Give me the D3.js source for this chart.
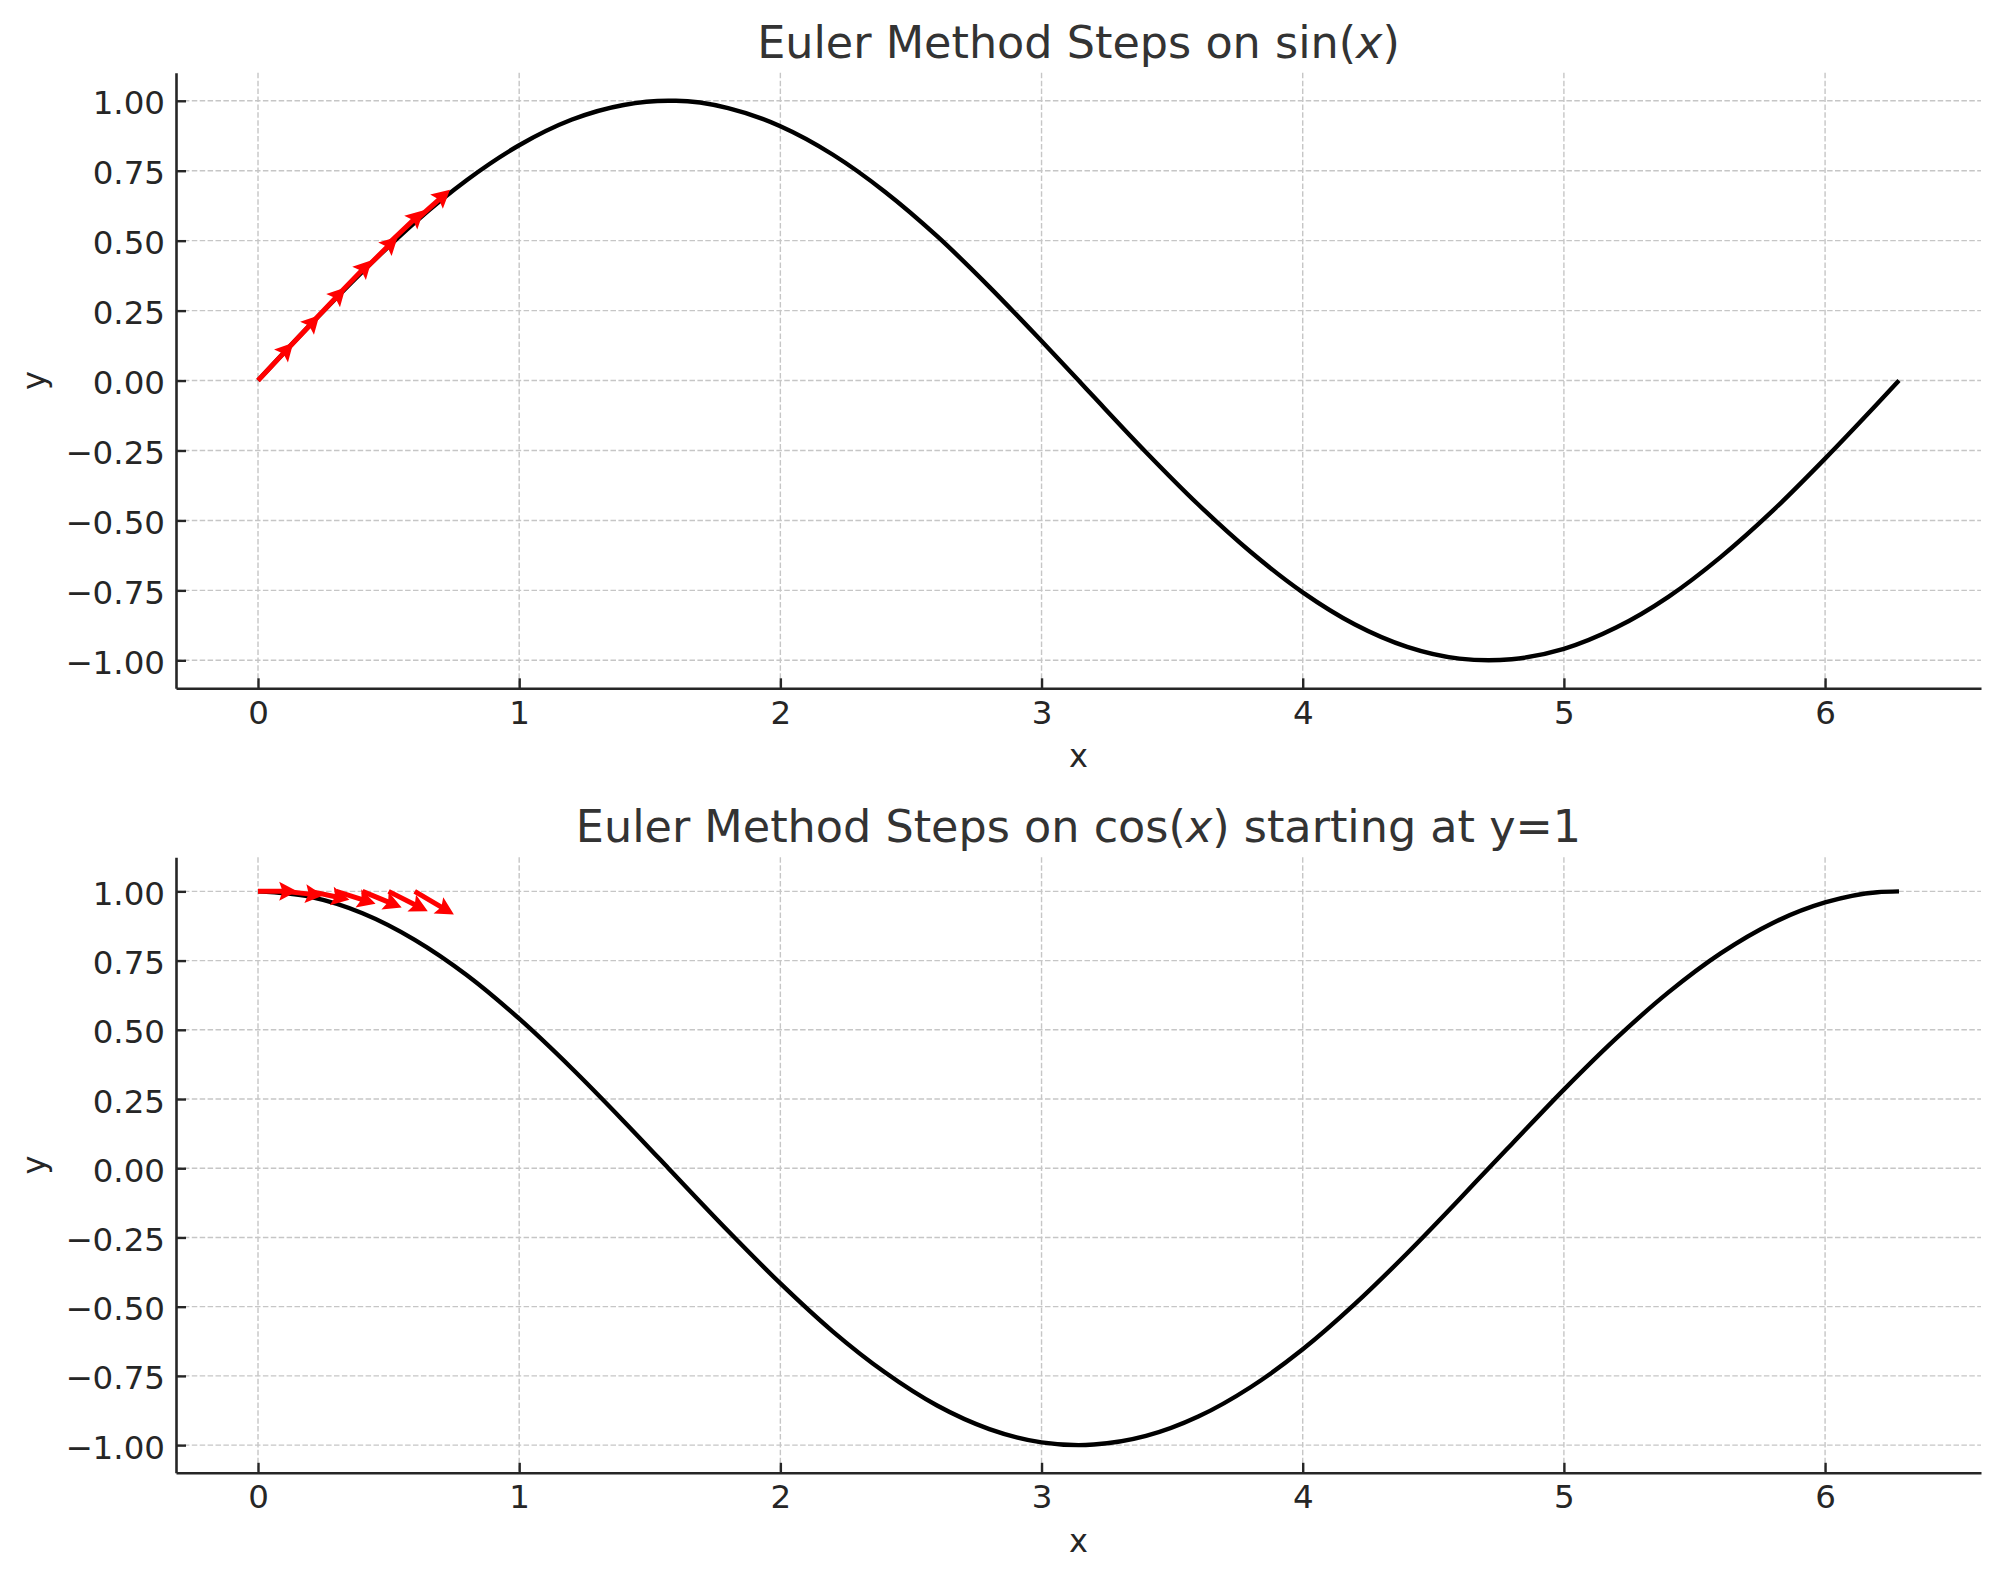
<!DOCTYPE html>
<html>
<head>
<meta charset="utf-8">
<script src="https://cdnjs.cloudflare.com/ajax/libs/d3/7.8.5/d3.min.js"></script>
<style>
  body { margin: 0; background: #ffffff; }
  text { font-family: "DejaVu Sans", sans-serif; }
  .GridLine { stroke: #c6c6c6; stroke-width: 1.4; stroke-dasharray: 5.5, 2.4; }
  .ChartTitle { font-size: 44.5px; fill: #333333; }
  .AxisLabel { font-size: 32px; fill: #262626; }
</style>
</head>
<body>
<div id="ChartContainer"></div>
<script>
var curveX = [0, 0.2, 0.4, 0.6, 0.8, 1.0, 1.2, 1.4, 1.571, 1.6, 1.8, 2.0, 2.2, 2.4, 2.6, 2.8,
  3.0, 3.142, 3.2, 3.4, 3.6, 3.8, 4.0, 4.2, 4.4, 4.6, 4.712, 4.8, 5.0, 5.2, 5.4, 5.6, 5.8,
  6.0, 6.2, 6.283]
var sinY = [0, 0.199, 0.389, 0.565, 0.717, 0.841, 0.932, 0.985, 1.0, 1.0, 0.974, 0.909, 0.808,
  0.675, 0.516, 0.335, 0.141, 0, -0.058, -0.256, -0.443, -0.612, -0.757, -0.872, -0.952,
  -0.994, -1.0, -0.996, -0.959, -0.883, -0.773, -0.631, -0.465, -0.279, -0.083, 0]
var cosY = [1.0, 0.980, 0.921, 0.825, 0.697, 0.540, 0.362, 0.170, 0, -0.029, -0.227, -0.416,
  -0.589, -0.737, -0.857, -0.942, -0.990, -1.0, -0.998, -0.967, -0.897, -0.791, -0.654,
  -0.490, -0.307, -0.112, 0, 0.087, 0.284, 0.469, 0.635, 0.776, 0.886, 0.960, 0.997, 1.0]

// Euler steps (arrow tails and slopes)
var stepX = [0, 0.1, 0.2, 0.3, 0.4, 0.5, 0.6]
var sinStepY = [0, 0.10, 0.20, 0.30, 0.39, 0.49, 0.57]
var sinStepSlope = [1.00, 0.99, 0.98, 0.96, 0.92, 0.88, 0.83]
var cosStepY = [1, 1, 1, 1, 1, 1, 1]
var cosStepSlope = [0, -0.10, -0.20, -0.30, -0.39, -0.48, -0.56]

var xTicks = [0, 1, 2, 3, 4, 5, 6]
var yTicks = [-1, -0.75, -0.5, -0.25, 0, 0.25, 0.5, 0.75, 1]

var fullWidth = 2001
var fullHeight = 1580
var margin = {
  left: 176,
  right: 20,
}
var width = fullWidth - margin.left - margin.right
var panelHeight = 615.5
var inkColor = "#262626"

// arrow shape, pixels
var shaftHalf = 2.5
var headHalf = 9.5
var headLength = 18
var headNotch = 15.5

var svg = d3.select("#ChartContainer").append("svg")
  .attr("width", fullWidth)
  .attr("height", fullHeight)

svg.append("rect")
  .attr("width", fullWidth)
  .attr("height", fullHeight)
  .attr("fill", "#ffffff")

var minusFormat = v => d3.format(".2f")(v).replace("-", "\u2212")

function drawPanel(opts) {
  var x = d3.scaleLinear()
    .domain([-0.314, 6.597])
    .range([0, width])
  var y = d3.scaleLinear()
    .domain(opts.yDomain)
    .range([panelHeight, 0])

  var g = svg.append("g")
    .attr("transform", `translate(${margin.left},${opts.top})`)

  // grid
  g.selectAll(".GridX")
    .data(xTicks)
    .enter().append("line")
    .attr("class", "GridLine")
    .attr("x1", d => x(d)).attr("x2", d => x(d))
    .attr("y1", 0).attr("y2", panelHeight)
  g.selectAll(".GridY")
    .data(yTicks)
    .enter().append("line")
    .attr("class", "GridLine")
    .attr("x1", 0).attr("x2", width)
    .attr("y1", d => y(d)).attr("y2", d => y(d))

  // function curve
  var line = d3.line()
    .x(i => x(curveX[i]))
    .y(i => y(opts.curveY[i]))
    .curve(d3.curveMonotoneX)
  g.append("path")
    .datum(d3.range(curveX.length))
    .attr("d", line)
    .attr("fill", "none")
    .attr("stroke", "#000000")
    .attr("stroke-width", 4.4)

  // Euler step arrows, quiver style
  stepX.forEach((sx, i) => {
    var x0 = x(sx)
    var y0 = y(opts.stepY[i])
    var x1 = x(sx + opts.arrowScale)
    var y1 = y(opts.stepY[i] + opts.stepSlope[i] * opts.arrowScale)
    var len = Math.hypot(x1 - x0, y1 - y0)
    var angle = Math.atan2(y1 - y0, x1 - x0) * 180 / Math.PI
    var pts = [[0, -shaftHalf], [len - headNotch, -shaftHalf], [len - headLength, -headHalf],
      [len, 0], [len - headLength, headHalf], [len - headNotch, shaftHalf], [0, shaftHalf]]
    g.append("polygon")
      .attr("transform", `translate(${x0},${y0}) rotate(${angle})`)
      .attr("points", pts.map(p => p.join(",")).join(" "))
      .attr("fill", "#ff0000")
  })

  // axes with inward ticks
  var xAxis = g.append("g")
    .attr("transform", `translate(0,${panelHeight})`)
    .call(d3.axisBottom(x)
      .tickValues(xTicks)
      .tickFormat(d3.format("d"))
      .tickSizeInner(-10)
      .tickSizeOuter(0)
      .tickPadding(12.5))
  var yAxis = g.append("g")
    .call(d3.axisLeft(y)
      .tickValues(yTicks)
      .tickFormat(minusFormat)
      .tickSizeInner(-10)
      .tickSizeOuter(0)
      .tickPadding(11))

  ;[xAxis, yAxis].forEach(ax => {
    ax.attr("font-family", null).attr("font-size", null)
    ax.select(".domain").attr("stroke", inkColor).attr("stroke-width", 2.6)
    ax.selectAll(".tick line").attr("stroke", inkColor).attr("stroke-width", 2.4)
    ax.selectAll(".tick text").attr("fill", inkColor).style("font-size", "32.5px")
  })
  yAxis.selectAll(".tick text").attr("dy", "0.4em")

  // title
  var title = g.append("text")
    .attr("class", "ChartTitle")
    .attr("x", width / 2)
    .attr("y", -15)
    .attr("text-anchor", "middle")
  title.append("tspan").text(opts.titleStart)
  title.append("tspan").attr("font-style", "italic").text("x")
  title.append("tspan").text(opts.titleEnd)

  // axis labels
  g.append("text")
    .attr("class", "AxisLabel")
    .attr("x", width / 2)
    .attr("y", panelHeight + 79)
    .attr("text-anchor", "middle")
    .text("x")
  g.append("text")
    .attr("class", "AxisLabel")
    .attr("transform", "rotate(-90)")
    .attr("x", -panelHeight / 2)
    .attr("y", 45 - margin.left)
    .attr("text-anchor", "middle")
    .text("y")
}

drawPanel({
  top: 72.8,
  yDomain: [-1.1, 1.1],
  curveY: sinY,
  stepY: sinStepY,
  stepSlope: sinStepSlope,
  arrowScale: 0.135,
  titleStart: "Euler Method Steps on sin(",
  titleEnd: ")",
})

drawPanel({
  top: 857.3,
  yDomain: [-1.1, 1.123],
  curveY: cosY,
  stepY: cosStepY,
  stepSlope: cosStepSlope,
  arrowScale: 0.15,
  titleStart: "Euler Method Steps on cos(",
  titleEnd: ") starting at y=1",
})
</script>
</body>
</html>
